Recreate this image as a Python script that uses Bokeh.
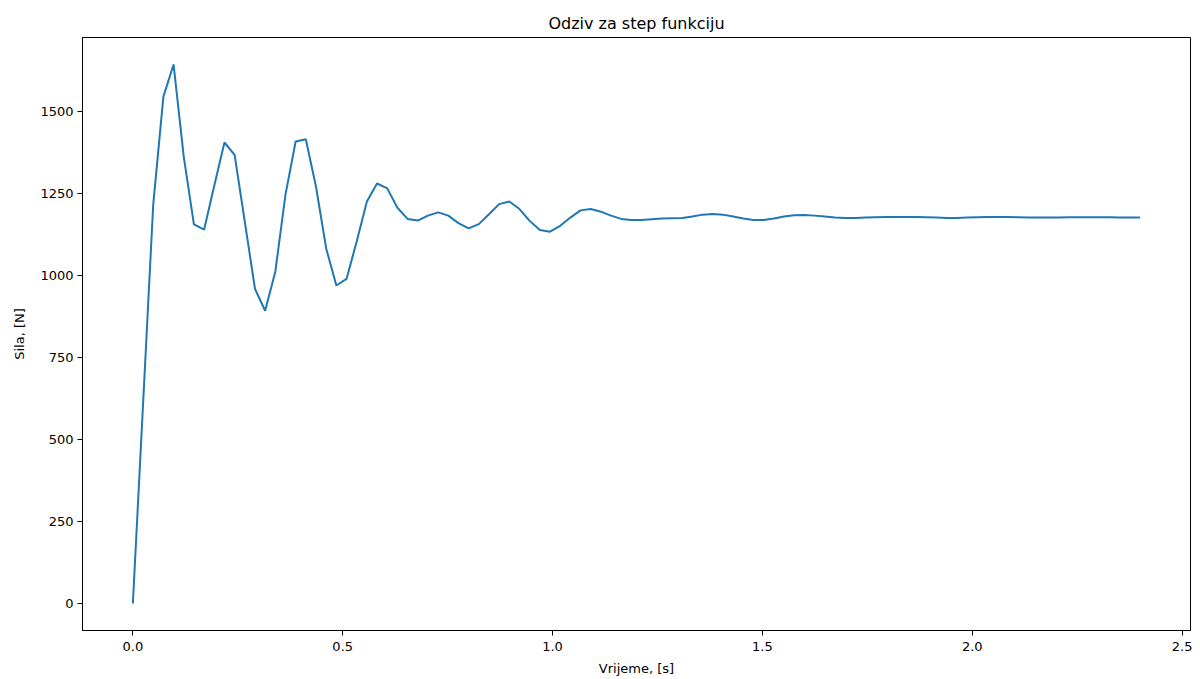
import numpy as np
from bokeh.plotting import figure
from bokeh.models import Range1d, FixedTicker, NumeralTickFormatter
from bokeh.embed import file_html
from bokeh.resources import INLINE

# Sampling grid: 100 samples from 0 to 2.4 s
vrijeme = np.linspace(0.0, 2.4, 100)

sila = [
    0, 607, 1216, 1546, 1644, 1363, 1156, 1140, 1274, 1406,
    1368, 1165, 960, 893, 1012, 1247, 1409, 1416, 1271, 1083,
    970, 990, 1104, 1226, 1281, 1266, 1207, 1173, 1168, 1183,
    1193, 1183, 1160, 1144, 1157, 1187, 1218, 1226, 1203, 1167,
    1139, 1134, 1152, 1177, 1199, 1203, 1195, 1183, 1173, 1170,
    1170, 1172, 1174, 1175, 1176, 1180, 1186, 1188, 1186, 1180,
    1174, 1170, 1170, 1174, 1180, 1184, 1185, 1183, 1180, 1177,
    1176, 1176, 1177, 1178, 1179, 1179, 1179, 1179, 1178, 1177,
    1176, 1176, 1177, 1178, 1179, 1179, 1179, 1178, 1177, 1177,
    1177, 1177, 1178, 1178, 1178, 1178, 1178, 1177, 1177, 1177,
]

x_ticks = [0.0, 0.5, 1.0, 1.5, 2.0, 2.5]
y_ticks = [0, 250, 500, 750, 1000, 1250, 1500]

title_text = "Odziv za step funkciju"
x_label = "Vrijeme, [s]"
y_label = "Sila, [N]"

FONT = "DejaVu Sans"

xmin, xmax = float(vrijeme.min()), float(vrijeme.max())
ymin, ymax = min(sila), max(sila)
xpad = 0.05 * (xmax - xmin)
ypad = 0.05 * (ymax - ymin)

p = figure(
    width=1192, height=678,
    output_backend="svg", toolbar_location=None,
    x_range=Range1d(xmin - xpad, xmax + xpad),
    y_range=Range1d(ymin - ypad, ymax + ypad),
    min_border_left=82, min_border_right=2,
    min_border_top=37, min_border_bottom=48,
)
p.title.text = title_text
p.title.align = "center"
p.title.text_font = FONT
p.title.text_font_size = "16px"
p.title.text_font_style = "normal"
p.title.text_color = "black"

p.line(vrijeme, sila, line_color="#1f77b4", line_width=2)

p.grid.visible = False
p.outline_line_color = "black"
p.outline_line_width = 1
p.outline_line_alpha = 1.0
p.background_fill_color = "white"
p.border_fill_color = "white"

p.xaxis.ticker = FixedTicker(ticks=x_ticks)
p.xaxis.formatter = NumeralTickFormatter(format="0.0")
p.yaxis.ticker = FixedTicker(ticks=y_ticks)
p.yaxis.formatter = NumeralTickFormatter(format="0")

for ax in (p.xaxis[0], p.yaxis[0]):
    ax.minor_tick_line_color = None
    ax.major_tick_in = 0
    ax.major_tick_out = 5
    ax.major_tick_line_color = "black"
    ax.axis_line_color = "black"
    ax.major_label_text_font = FONT
    ax.major_label_text_font_size = "13px"
    ax.major_label_text_color = "black"
    ax.axis_label_text_font = FONT
    ax.axis_label_text_font_size = "13px"
    ax.axis_label_text_font_style = "normal"
    ax.axis_label_text_color = "black"
    ax.major_label_standoff = 4

p.xaxis.major_label_standoff = 6
p.xaxis.axis_label = x_label
p.yaxis.axis_label = y_label
p.xaxis.axis_label_standoff = 7
p.yaxis.axis_label_standoff = 10

open("out.html", "w").write(file_html(p, INLINE))
